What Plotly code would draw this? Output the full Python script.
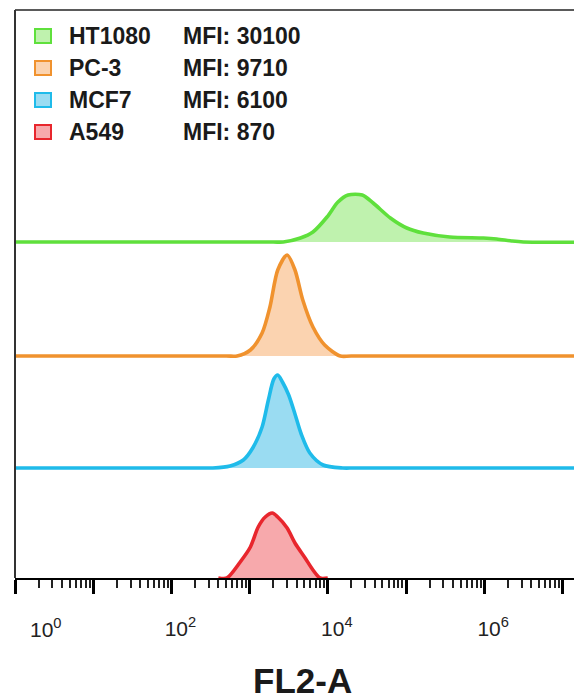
import plotly.graph_objects as go

# ---------------- data ----------------
cell_lines = ["HT1080", "PC-3", "MCF7", "A549"]
mfi_values = [30100, 9710, 6100, 870]

# log10(FL2-A) bin positions and relative counts for each histogram
ht1080_log = [0.0, 3.30, 3.43, 3.65, 3.81, 3.99, 4.13, 4.26, 4.44, 4.58, 4.80, 5.01, 5.22, 5.56, 5.99, 6.16, 6.35, 6.50, 7.5]
ht1080_cnt = [0, 0, 0, 4, 10, 25, 40, 47, 47, 39, 24, 14, 9, 5, 4, 3, 1, 0, 0]

pc3_log = [0.0, 2.70, 2.84, 3.01, 3.16, 3.26, 3.36, 3.48, 3.58, 3.68, 3.81, 3.96, 4.16, 4.30, 7.5]
pc3_cnt = [0, 0, 0, 6, 23, 49, 86, 101, 86, 56, 29, 11, 0, 0, 0]

mcf7_log = [0.0, 2.40, 2.53, 2.75, 2.92, 3.04, 3.16, 3.24, 3.31, 3.36, 3.42, 3.50, 3.58, 3.66, 3.77, 3.94, 4.19, 4.35, 7.5]
mcf7_cnt = [0, 0, 0, 2, 8, 20, 41, 68, 89, 93, 86, 73, 54, 34, 15, 3, 0, 0, 0]

a549_log = [2.60, 2.71, 2.88, 3.01, 3.11, 3.20, 3.29, 3.36, 3.48, 3.58, 3.71, 3.81, 3.90, 4.00]
a549_cnt = [0, 0, 16, 31, 51, 61, 65, 61, 50, 35, 20, 8, 0, 0]

series_log = [ht1080_log, pc3_log, mcf7_log, a549_log]
series_cnt = [ht1080_cnt, pc3_cnt, mcf7_cnt, a549_cnt]

tick_exponents = [0, 1, 2, 3, 4, 5, 6, 7]
x_title = "FL2-A"

# ---------------- styles ----------------
line_colors = ["#5fe03c", "#f0922e", "#1fbbea", "#e8262d"]
fill_colors = ["#bff2ae", "#fbd3b0", "#9adcf2", "#f7a9ac"]
font_family = "Liberation Sans, Arial, sans-serif"
tick_font = dict(size=21, family=font_family, color="#222")

W, H = 574, 700
plot_left, plot_right, plot_top, plot_bottom = 15, 574, 10, 578
px_per_decade = 78.2
baselines = [242, 356, 468, 578]      # pixel baselines, top to bottom
uppers = [plot_top, 242, 356, 468]    # top of each stripe


def py(p):
    return (plot_bottom - p) / (plot_bottom - plot_top)


def px(p):
    return (p - plot_left) / (plot_right - plot_left)


def tick_label(e):
    return f"10<sup>{e}</sup>"


x_max = (plot_right - plot_left) / px_per_decade

fig = go.Figure()
layout = dict(
    width=W, height=H,
    margin=dict(l=plot_left, r=W - plot_right, t=plot_top, b=H - plot_bottom, autoexpand=False),
    paper_bgcolor="white", plot_bgcolor="white",
    showlegend=False,
    font=dict(family=font_family, color="#1a1a1a"),
)

n = len(cell_lines)
for i in range(n):
    idx = i + 1
    s = n - 1 - i            # series index (0 = HT1080, top stripe)
    xa = "x" if idx == 1 else f"x{idx}"
    ya = "y" if idx == 1 else f"y{idx}"
    base = baselines[s]
    upper = uppers[s]
    pad = 0 if s == n - 1 else 3
    fig.add_trace(go.Scatter(
        x=[10 ** v for v in series_log[s]], y=series_cnt[s],
        xaxis=xa, yaxis=ya, mode="lines",
        line=dict(color=line_colors[s], width=3.6, shape="spline", smoothing=0.8),
        fill="tozeroy", fillcolor=fill_colors[s],
        name=cell_lines[s], hoverinfo="skip",
    ))
    yname = "yaxis" if idx == 1 else f"yaxis{idx}"
    xname = "xaxis" if idx == 1 else f"xaxis{idx}"
    layout[yname] = dict(
        domain=[max(0, py(base + pad)), min(1, py(upper))],
        range=[-pad, base - upper], visible=False, fixedrange=True,
        anchor=xa, automargin=False,
    )
    if idx == 1:
        layout[xname] = dict(
            type="log", range=[0, x_max], domain=[0, 1], anchor="y",
            automargin=False,
            showline=True, linecolor="black", linewidth=2,
            ticks="outside", ticklen=14, tickwidth=3, tickcolor="black",
            tickvals=[10 ** e for e in tick_exponents],
            # the 10^0 label is drawn further right below (as in the reference)
            ticktext=[tick_label(e) if (e % 2 == 0 and e > 0) else "" for e in tick_exponents],
            tickfont=tick_font,
            ticklabelshift=9, ticklabelstandoff=17,
            minor=dict(ticks="outside", ticklen=8, tickwidth=2, tickcolor="#222",
                       tickvals=[m * 10 ** e for e in tick_exponents for m in range(2, 10)]),
            showgrid=False, zeroline=False,
        )
    else:
        layout[xname] = dict(type="log", range=[0, x_max], domain=[0, 1], anchor=ya,
                             matches="x", visible=False, automargin=False)

fig.update_layout(**layout)

# 10^0 tick label, offset to the right of its tick like the reference
fig.add_annotation(xref="x", yref="paper", x=tick_exponents[0], y=py(628),
                   xanchor="center", yanchor="middle", xshift=31, showarrow=False,
                   text=tick_label(tick_exponents[0]), font=tick_font)

# frame (top and left borders)
fig.add_shape(type="line", xref="paper", yref="paper", x0=0, x1=1, y0=1, y1=1,
              line=dict(color="#5a5a5a", width=2))
fig.add_shape(type="line", xref="paper", yref="paper", x0=0, x1=0, y0=0, y1=1,
              line=dict(color="#333333", width=2))

# legend (manual, two columns)
row_y = [36, 68, 100, 132]
for s in range(n):
    yc = row_y[s]
    fig.add_shape(type="rect", xref="paper", yref="paper",
                  x0=px(35), x1=px(51), y0=py(yc + 7), y1=py(yc - 7),
                  line=dict(color=line_colors[s], width=2), fillcolor=fill_colors[s])
    fig.add_annotation(xref="paper", yref="paper", x=px(67), y=py(yc),
                       xanchor="left", yanchor="middle", showarrow=False,
                       text=cell_lines[s],
                       font=dict(size=23, family=font_family, weight="bold", color="#1a1a1a"))
    fig.add_annotation(xref="paper", yref="paper", x=px(181), y=py(yc),
                       xanchor="left", yanchor="middle", showarrow=False,
                       text=f"MFI: {mfi_values[s]}",
                       font=dict(size=23, family=font_family, weight="bold", color="#1a1a1a"))

# axis title
fig.add_annotation(xref="paper", yref="paper", x=px(302), y=py(680),
                   xanchor="center", yanchor="middle", showarrow=False,
                   text=x_title,
                   font=dict(size=35, family=font_family, weight="bold", color="#1a1a1a"))

fig.write_html("out.html")
